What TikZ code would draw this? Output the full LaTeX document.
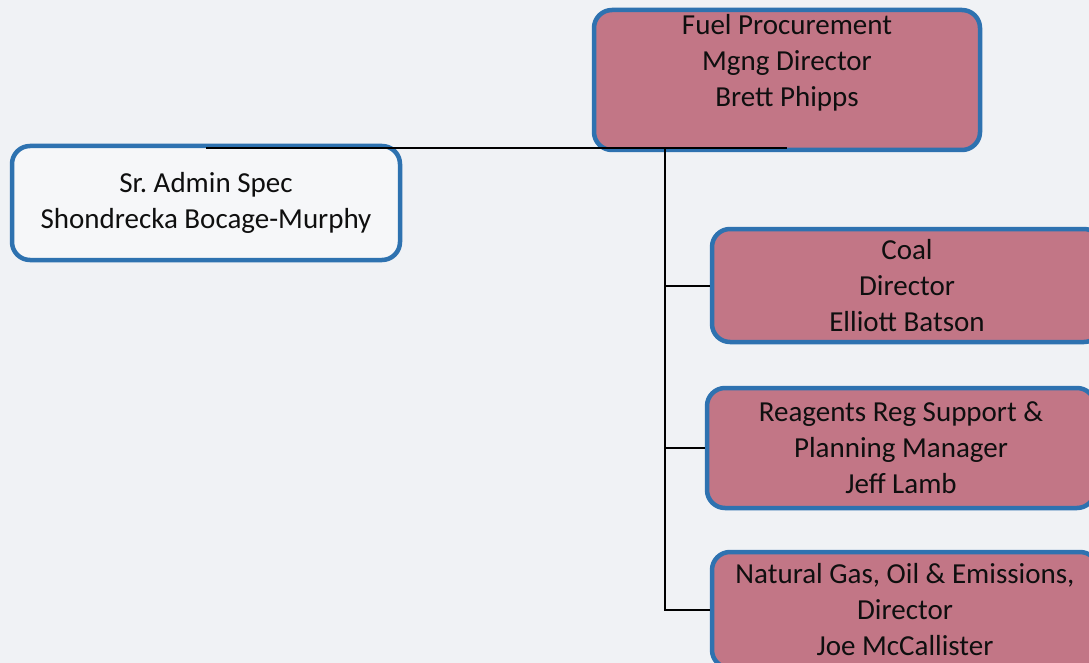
\documentclass[tikz,border=0pt]{standalone}
\usepackage{fontspec}
\setmainfont{Carlito}
\frenchspacing
\definecolor{bg}{RGB}{240,242,245}
\definecolor{edgeblue}{RGB}{46,114,176}
\definecolor{rosefill}{RGB}{194,118,134}
\definecolor{ink}{RGB}{15,15,15}
\begin{document}
\begin{tikzpicture}[x=1pt,y=-1pt,
  orgbox/.style={draw=edgeblue, line width=4.5pt, rounded corners=18pt, inner sep=0pt},
  pinkbox/.style={orgbox, fill=rosefill},
  whitebox/.style={orgbox, fill=bg!60!white},
  txt/.style={text=ink, align=center, font=\fontsize{29}{36}\selectfont},
  conn/.style={draw=black, line width=2pt}]
\useasboundingbox (0,0) rectangle (1089,663);
\fill[bg] (0,0) rectangle (1089,663);
\clip (0,0) rectangle (1089,663);
% boxes
\node[pinkbox, minimum width=386pt, minimum height=140pt] (top) at (787,80) {};
\node[txt] (toptxt) at (787,63) {Fuel Procurement\\Mgng Director\\Brett Phipps};
\node[whitebox, txt, minimum width=388pt, minimum height=114pt] (admin) at (206,203) {Sr. Admin Spec\\Shondrecka Bocage-Murphy};
\node[pinkbox, txt, minimum width=390pt, minimum height=113pt] (coal) at (907,285.5) {Coal\\Director\\Elliott Batson};
\node[pinkbox, txt, minimum width=388pt, minimum height=120pt] (reag) at (901,448) {Reagents Reg Support \&\\Planning Manager\\Jeff Lamb};
\node[pinkbox, txt, minimum width=386pt, minimum height=116pt] (ngas) at (905,610) {Natural Gas, Oil \& Emissions,\\Director\\Joe McCallister};
% connectors
\coordinate (trunk) at (665,148);
\draw[conn] (admin.north |- trunk) -- (top.south |- trunk);
\draw[conn] (trunk) |- (ngas.west);
\draw[conn] (trunk |- coal.west) -- (coal.west);
\draw[conn] (trunk |- reag.west) -- (reag.west);
\end{tikzpicture}
\end{document}
